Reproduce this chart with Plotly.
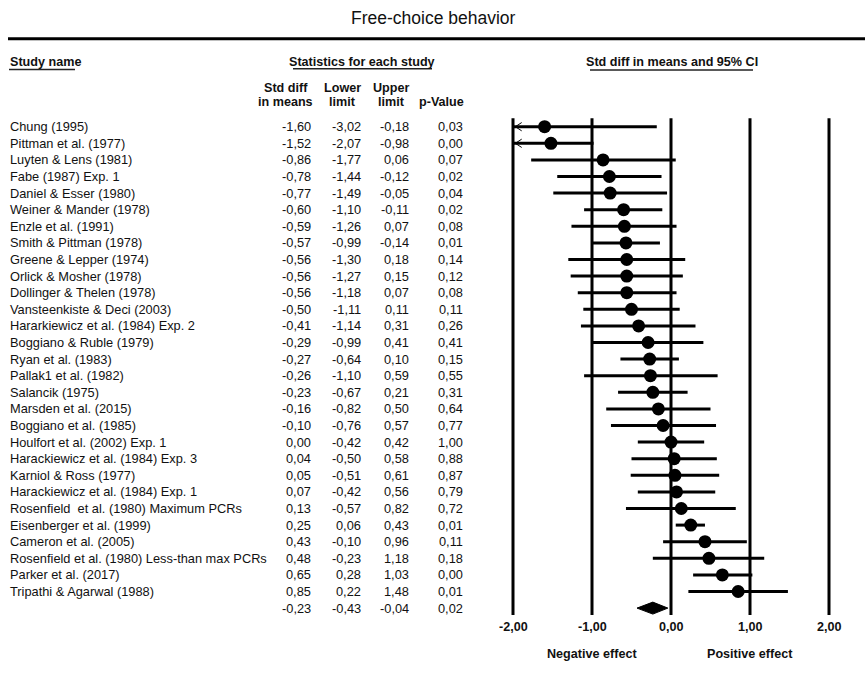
import plotly.graph_objects as go

# ---- data -------------------------------------------------------------
studies = [
    "Chung (1995)", "Pittman et al. (1977)", "Luyten & Lens (1981)", "Fabe (1987) Exp. 1",
    "Daniel & Esser (1980)", "Weiner & Mander (1978)", "Enzle et al. (1991)",
    "Smith & Pittman (1978)", "Greene & Lepper (1974)", "Orlick & Mosher (1978)",
    "Dollinger & Thelen (1978)", "Vansteenkiste & Deci (2003)",
    "Hararkiewicz et al. (1984) Exp. 2", "Boggiano & Ruble (1979)", "Ryan et al. (1983)",
    "Pallak1 et al. (1982)", "Salancik (1975)", "Marsden et al. (2015)",
    "Boggiano et al. (1985)", "Houlfort et al. (2002) Exp. 1",
    "Harackiewicz et al. (1984) Exp. 3", "Karniol & Ross (1977)",
    "Harackiewicz et al. (1984) Exp. 1", "Rosenfield  et al. (1980) Maximum PCRs",
    "Eisenberger et al. (1999)", "Cameron et al. (2005)",
    "Rosenfield et al. (1980) Less-than max PCRs", "Parker et al. (2017)",
    "Tripathi & Agarwal (1988)",
]
smd = [-1.60, -1.52, -0.86, -0.78, -0.77, -0.60, -0.59, -0.57, -0.56, -0.56,
       -0.56, -0.50, -0.41, -0.29, -0.27, -0.26, -0.23, -0.16, -0.10, 0.00,
       0.04, 0.05, 0.07, 0.13, 0.25, 0.43, 0.48, 0.65, 0.85]
lower = [-3.02, -2.07, -1.77, -1.44, -1.49, -1.10, -1.26, -0.99, -1.30, -1.27,
         -1.18, -1.11, -1.14, -0.99, -0.64, -1.10, -0.67, -0.82, -0.76, -0.42,
         -0.50, -0.51, -0.42, -0.57, 0.06, -0.10, -0.23, 0.28, 0.22]
upper = [-0.18, -0.98, 0.06, -0.12, -0.05, -0.11, 0.07, -0.14, 0.18, 0.15,
         0.07, 0.11, 0.31, 0.41, 0.10, 0.59, 0.21, 0.50, 0.57, 0.42,
         0.58, 0.61, 0.56, 0.82, 0.43, 0.96, 1.18, 1.03, 1.48]
pvalue = [0.03, 0.00, 0.07, 0.02, 0.04, 0.02, 0.08, 0.01, 0.14, 0.12,
          0.08, 0.11, 0.26, 0.41, 0.15, 0.55, 0.31, 0.64, 0.77, 1.00,
          0.88, 0.87, 0.79, 0.72, 0.01, 0.11, 0.18, 0.00, 0.01]
summary = {"smd": -0.23, "lower": -0.43, "upper": -0.04, "p": 0.02}
axis_ticks = [-2, -1, 0, 1, 2]
tick_labels = ["-2,00", "-1,00", "0,00", "1,00", "2,00"]

# ---- geometry ---------------------------------------------------------
W, H = 865, 686
X0_PX, X_UNIT = 671.0, 79.0        # pixel of 0 and pixels per unit
Y0_PX, ROW_PX = 126.7, 16.6        # pixel of first row and row height
X_MIN, X_MAX = -2, 2               # visible effect range

FONT = "Liberation Sans, Arial, Helvetica, sans-serif"
INK = "#111111"


def px(xp):
    return xp / W


def py(yp):
    return 1 - yp / H


def row_of(yp):
    return (yp - Y0_PX) / ROW_PX


def fmt(v):
    return f"{v:.2f}".replace(".", ",")


n = len(studies)
rows = list(range(n))
sum_row = n

fig = go.Figure()

# confidence intervals (clipped at the plot limits)
cx, cy = [], []
for i in rows:
    cx += [max(lower[i], X_MIN), min(upper[i], X_MAX), None]
    cy += [i, i, None]
fig.add_trace(go.Scatter(x=cx, y=cy, mode="lines",
                         line=dict(color="black", width=3), hoverinfo="skip"))

# arrow heads for intervals running past the axis limit
ax_, ay_ = [], []
for i in rows:
    if lower[i] < X_MIN:
        tip = X_MIN + 0.03
        ax_ += [tip + 0.08, tip, tip + 0.08, None]
        ay_ += [i - 0.25, i, i + 0.25, None]
fig.add_trace(go.Scatter(x=ax_, y=ay_, mode="lines",
                         line=dict(color="black", width=1), hoverinfo="skip"))

# point estimates
fig.add_trace(go.Scatter(x=smd, y=rows, mode="markers",
                         marker=dict(color="black", size=13, line=dict(width=0)),
                         hoverinfo="skip"))

# summary diamond
dh = 0.36
fig.add_trace(go.Scatter(
    x=[summary["lower"], summary["smd"], summary["upper"], summary["smd"], summary["lower"]],
    y=[sum_row, sum_row - dh, sum_row, sum_row + dh, sum_row],
    mode="lines", fill="toself", fillcolor="black",
    line=dict(color="black", width=1), hoverinfo="skip"))

shapes = []
# vertical reference lines
for t in axis_ticks:
    shapes.append(dict(type="line", xref="x", yref="y", x0=t, x1=t,
                       y0=row_of(118.3), y1=row_of(615),
                       line=dict(color="black", width=3)))
# thick rule under the title
shapes.append(dict(type="line", xref="paper", yref="paper", x0=px(8), x1=1,
                   y0=py(38.7), y1=py(38.7), line=dict(color="black", width=3)))
# header underlines
for x0, x1, yy in [(9, 75, 69.5), (293, 432, 68.8), (590, 753, 70)]:
    shapes.append(dict(type="line", xref="paper", yref="paper", x0=px(x0), x1=px(x1),
                       y0=py(yy), y1=py(yy), line=dict(color="#222", width=1.6)))

ann = []


def text(x, y, s, size=12.8, anchor="left", bold=False, xref="paper", yref="paper"):
    ann.append(dict(x=x, y=y, xref=xref, yref=yref, text=f"<b>{s}</b>" if bold else s,
                    showarrow=False, xanchor=anchor, yanchor="middle",
                    font=dict(family=FONT, size=size, color=INK)))


# title
text(px(433), py(18), "Free-choice behavior", size=17.5, anchor="center")

# headers
text(px(8), py(62.5), "Study name", size=12.6, bold=True)
text(px(362), py(62.5), "Statistics for each study", size=12.6, anchor="center", bold=True)
text(px(672), py(62.5), "Std diff in means and 95% CI", size=12.6, anchor="center", bold=True)
for cxp, l1, l2 in [(285.5, "Std diff", "in means"), (342, "Lower", "limit"),
                    (391, "Upper", "limit"), (441.5, "", "p-Value")]:
    if l1:
        text(px(cxp), py(88), l1, size=12.6, anchor="center", bold=True)
    text(px(cxp), py(102), l2, size=12.6, anchor="center", bold=True)

# table body
col_right = [313, 362.5, 410.5, 464.5]
for i in rows:
    text(px(8), i, studies[i], yref="y")
    for xr, v in zip(col_right, [smd[i], lower[i], upper[i], pvalue[i]]):
        text(px(xr), i, fmt(v), anchor="right", yref="y")
for xr, v in zip(col_right, [summary["smd"], summary["lower"], summary["upper"], summary["p"]]):
    text(px(xr), sum_row, fmt(v), anchor="right", yref="y")

# axis labels under the forest plot
for t, lab in zip(axis_ticks, tick_labels):
    text(t, row_of(627.3), lab, size=12.6, anchor="center", bold=True, xref="x", yref="y")
text(-1, row_of(654), "Negative effect", size=12.6, anchor="center", bold=True, xref="x", yref="y")
text(1, row_of(654), "Positive effect", size=12.6, anchor="center", bold=True, xref="x", yref="y")

fig.update_layout(
    width=W, height=H,
    margin=dict(l=0, r=0, t=0, b=0),
    paper_bgcolor="white", plot_bgcolor="white",
    showlegend=False,
    xaxis=dict(range=[-X0_PX / X_UNIT, (W - X0_PX) / X_UNIT], domain=[0, 1],
               visible=False, fixedrange=True),
    yaxis=dict(range=[row_of(H), row_of(0)], domain=[0, 1],
               visible=False, fixedrange=True),
    shapes=shapes,
    annotations=ann,
)

fig.write_html("out.html")
